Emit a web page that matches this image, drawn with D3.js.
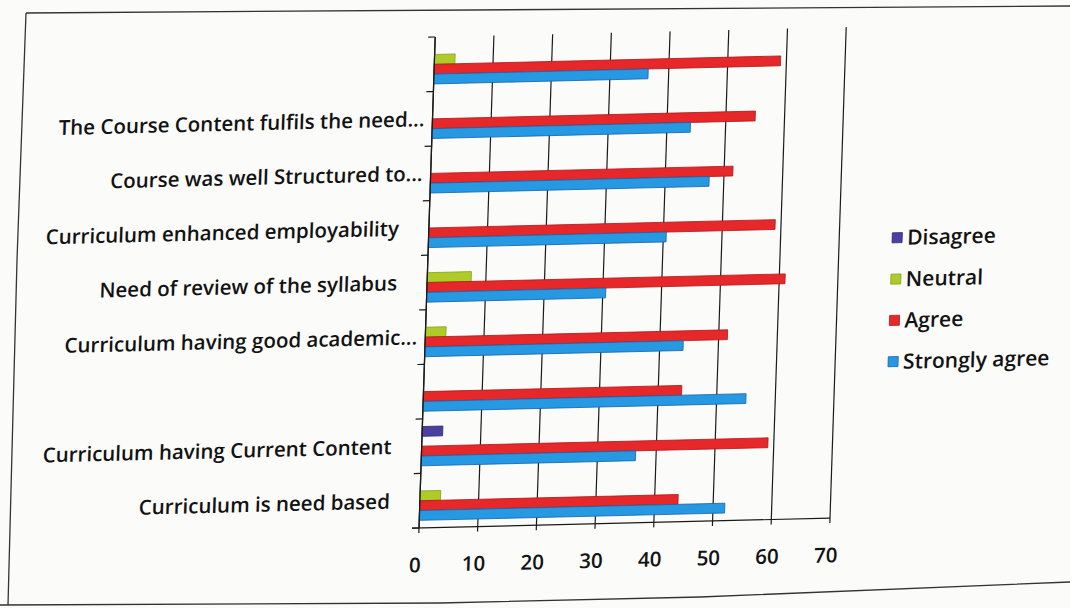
<!DOCTYPE html>
<html>
<head>
<meta charset="utf-8">
<script src="https://cdn.jsdelivr.net/npm/d3@7"></script>
<style>
  html, body { margin: 0; padding: 0; background: #fbfbfa; }
  svg { display: block; }
  text { font-family: "Open Sans", Lato, sans-serif; font-weight: 600; fill: #121212; }
</style>
</head>
<body>
<svg id="chart" width="1070" height="608"></svg>
<script>
// Categories in axis order, bottom to top (as Excel draws them)
const categories = [
  "Curriculum is need based",
  "Curriculum having Current Content",
  "",
  "Curriculum having good academic...",
  "Need of review of the syllabus",
  "Curriculum enhanced employability",
  "Course was well Structured to...",
  "The Course Content fulfils the need...",
  ""
];
const seriesNames = ["Disagree", "Neutral", "Agree", "Strongly agree"];
const disagree      = [0,   3.5, 0,  0,   0,   0,    0,    0,  0];
const neutral       = [3.5, 0,   0,  3.5, 7.5, 0,    0,    0,  3.5];
const agree         = [44,  59,  44, 51.5,61,  59,   51.5, 55, 59];
const stronglyAgree = [52,  36.5,55, 44,  30.5,40.5, 47.5, 44, 36.5];
const xTicks = [0, 10, 20, 30, 40, 50, 60, 70];
const colors = ["#4b3fa0", "#afcb28", "#e6282b", "#2699e2"];
const strokes = ["#2e2670", "#86a018", "#b01818", "#1463a8"];

const seriesValues = [disagree, neutral, agree, stronglyAgree];

const svg = d3.select("#chart");

// Paper frame (photo of printed page)
svg.append("path")
  .attr("d", d3.line()([[26, 13], [1070, 6]]))
  .attr("stroke", "#333").attr("stroke-width", 1.3).attr("fill", "none");
svg.append("path")
  .attr("d", d3.line()([[26, 13], [17, 260], [8, 605]]))
  .attr("stroke", "#333").attr("stroke-width", 1.3).attr("fill", "none");
svg.append("path")
  .attr("d", d3.line()([[0, 605], [440, 603], [700, 597], [1070, 582]]))
  .attr("stroke", "#333").attr("stroke-width", 1.3).attr("fill", "none");

// Chart geometry in an un-distorted frame, then skewed to match the photo
const pLeft = 419, pBottom = 528, pTop = 37, pRight = 830;
const g = svg.append("g")
  .attr("transform", `translate(${pLeft},${pBottom}) matrix(1,-0.024,-0.033,1,0,0) translate(${-pLeft},${-pBottom})`);

const x = d3.scaleLinear().domain([0, 70]).range([pLeft, pRight]);
const yIdx = d3.range(categories.length);
const y = d3.scaleBand().domain(yIdx).range([pBottom, pTop]).paddingInner(0.28).paddingOuter(0.14);
const ySub = d3.scaleBand().domain(d3.range(seriesNames.length)).range([0, y.bandwidth()]);
const yCat = d3.scaleBand().domain(yIdx).range([pBottom, pTop]);

// Gridlines
g.append("g").selectAll("line").data(xTicks).join("line")
  .attr("x1", d => x(d)).attr("x2", d => x(d))
  .attr("y1", pTop).attr("y2", pBottom + 5)
  .attr("stroke", "#1a1a1a").attr("stroke-width", 1.2);

// Bars
seriesValues.forEach((vals, s) => {
  g.append("g").selectAll("rect").data(vals.map((v, i) => ({ v, i })).filter(d => d.v > 0)).join("rect")
    .attr("x", x(0))
    .attr("y", d => y(d.i) + ySub(s))
    .attr("width", d => x(d.v) - x(0))
    .attr("height", ySub.bandwidth())
    .attr("fill", colors[s])
    .attr("stroke", strokes[s]).attr("stroke-width", 0.8);
});

// Axes lines
g.append("line").attr("x1", pLeft - 7).attr("x2", pRight)
  .attr("y1", pBottom).attr("y2", pBottom).attr("stroke", "#1a1a1a").attr("stroke-width", 1.2);
g.append("line").attr("x1", pLeft).attr("x2", pLeft)
  .attr("y1", pTop).attr("y2", pBottom).attr("stroke", "#1a1a1a").attr("stroke-width", 1.3);

// Category axis ticks
g.append("g").selectAll("line").data(yIdx.concat([categories.length])).join("line")
  .attr("x1", pLeft - 7).attr("x2", pLeft)
  .attr("y1", d => d < categories.length ? yCat(d) + yCat.bandwidth() : pTop)
  .attr("y2", d => d < categories.length ? yCat(d) + yCat.bandwidth() : pTop)
  .attr("stroke", "#1a1a1a").attr("stroke-width", 1.2);

// Category labels
g.append("g").selectAll("text").data(yIdx).join("text")
  .attr("x", d => categories[d].endsWith("...") ? pLeft - 8 : pLeft - 30)
  .attr("y", d => yCat(d) + yCat.bandwidth() / 2)
  .attr("dy", "0.35em")
  .attr("text-anchor", "end")
  .attr("font-size", 20.5)
  .text(d => categories[d]);

// Value axis labels
g.append("g").selectAll("text").data(xTicks).join("text")
  .attr("x", d => x(d) - 3)
  .attr("y", pBottom + 37)
  .attr("dy", "0.35em")
  .attr("text-anchor", "middle")
  .attr("font-size", 20.5)
  .text(d => d);

// Legend
const legend = g.append("g").attr("transform", "translate(888,249)");
const li = legend.selectAll("g").data(seriesNames).join("g")
  .attr("transform", (d, i) => `translate(0,${i * 41.3})`);
li.append("rect").attr("x", -5).attr("y", -5).attr("width", 10).attr("height", 10)
  .attr("fill", (d, i) => colors[i]).attr("stroke", (d, i) => strokes[i]).attr("stroke-width", 0.8);
li.append("text").attr("x", 10).attr("dy", "0.35em").attr("font-size", 21).text(d => d);
</script>
</body>
</html>
